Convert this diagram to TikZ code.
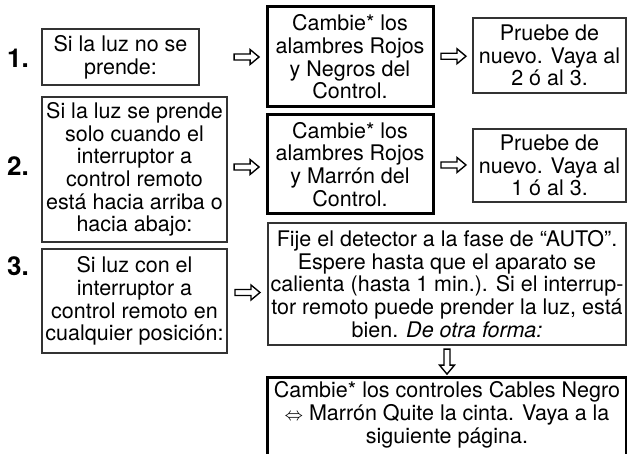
\documentclass[tikz,border=0pt]{standalone}
\usepackage{fontspec}
\setmainfont{TeX Gyre Heros}
\usetikzlibrary{calc}
\usetikzlibrary{positioning}
\tikzset{
  thinbox/.style={draw=black!80,line width=0.6pt,align=center,inner sep=0pt},
  thickbox/.style={draw=black,line width=1.5pt,align=center,inner sep=0pt},
  openbox/.style={align=center,inner sep=0pt},
  numlabel/.style={font=\fontsize{13}{13}\selectfont\bfseries},
  arrowline/.style={draw=black,line width=0.7pt,fill=white,line join=miter},
}
\newcommand*\hollowarrow[3][0]{%
% #1=angle;#2=start;#3=end
    \path ($(#2)!0.5!(#3)$) coordinate (arrowmid);
    \begin{scope}[shift={(arrowmid)},rotate=#1]
    \draw[arrowline] (-12.5,-3) -- (3.5,-3) -- (3.5,-7.5) -- (12.5,0) -- (3.5,7.5) -- (3.5,3) -- (-12.5,3)
      .. controls (-11,1) and (-14,-1) .. (-12.5,-3) -- cycle;
    \end{scope}
}
\begin{document}
\begin{tikzpicture}[x=0.5pt,y=-0.5pt,font=\fontsize{10.75}{11.35}\selectfont]
\useasboundingbox (0,0) rectangle (627,454);

\node[numlabel] (num1) at (18,58) {1.};
\node[numlabel] (num2) at (18,166) {2.};
\node[numlabel] (num3) at (18,266) {3.};

% left column
\node[thinbox,minimum width=78.5pt,minimum height=28pt] (luzno) at (120.5,57)
  {Si la luz no se\\prende:};
\node[thinbox,minimum width=92.5pt,minimum height=72.5pt] (luzsolo) at (134.5,169.5)
  {Si la luz se prende\\solo cuando el\\interruptor a\\control remoto\\está hacia arriba o\\hacia abajo:};
\node[thinbox,minimum width=92.5pt,minimum height=52pt] (luzcon) at (134.5,301)
  {Si luz con el\\interruptor a\\control remoto en\\cualquier posición:};

% middle column
\node[thickbox,minimum width=83pt,minimum height=50pt] (negros) at (350,57)
  {Cambie* los\\alambres Rojos\\y Negros del\\Control.};
\node[thickbox,minimum width=83pt,minimum height=49.5pt] (marron) at (350,164.5)
  {Cambie* los\\alambres Rojos\\y Marrón del\\Control.};

% right column
\node[thinbox,minimum width=76.5pt,minimum height=37.5pt] (prueba1) at (549.5,55.5)
  {Pruebe de\\nuevo. Vaya al\\2 ó al 3.};
\node[thinbox,minimum width=76.5pt,minimum height=36.5pt] (prueba2) at (549.5,165.5)
  {Pruebe de\\nuevo. Vaya al\\1 ó al 3.};

\node[thinbox,minimum width=179pt,minimum height=61pt] (auto) at (447,284)
  {Fije el detector a la fase de “AUTO”.\\Espere hasta que el aparato se\\calienta (hasta 1 min.). Si el interrup-\\tor remoto puede prender la luz, está\\bien. \textit{De otra forma:}};
\node[openbox,minimum width=179pt,minimum height=37pt] (cables) at (447,415)
  {Cambie* los controles Cables Negro\\{\small$\Leftrightarrow$} Marrón Quite la cinta. Vaya a la\\siguiente página.};
\draw[line width=1.5pt] ([yshift=-4pt]cables.south west) |- (cables.north east) -- ([yshift=-4pt]cables.south east);

\hollowarrow{luzno.east -| luzsolo.east}{negros.west}
\hollowarrow{luzsolo.east}{marron.west}
\hollowarrow{luzcon.east}{auto.west}
\hollowarrow{negros.east}{prueba1.west}
\hollowarrow{marron.east}{prueba2.west}
\hollowarrow[-90]{auto.south}{cables.north}
\end{tikzpicture}
\end{document}
